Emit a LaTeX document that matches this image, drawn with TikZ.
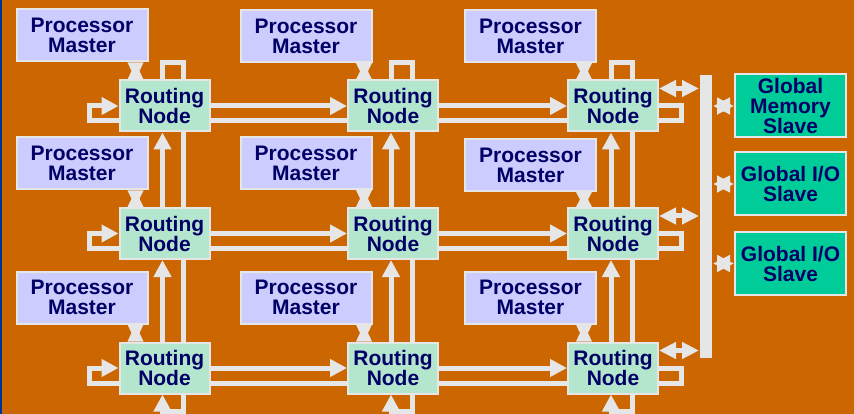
\documentclass[tikz,border=0pt]{standalone}
\usepackage{fontspec}
\setmainfont{Liberation Sans}
\usetikzlibrary{arrows.meta}
\definecolor{bg}{RGB}{204,102,0}
\definecolor{wire}{RGB}{230,230,230}
\definecolor{pmfill}{RGB}{204,204,255}
\definecolor{rnfill}{RGB}{179,230,204}
\definecolor{gsfill}{RGB}{0,204,153}
\definecolor{ink}{RGB}{0,0,102}
\definecolor{rim}{RGB}{0,51,153}

\begin{document}
\begin{tikzpicture}
[x=1pt,y=-1pt,
every node/.style={rectangle,draw=wire,line width=2pt,text=ink,align=center,inner sep=1pt,font=\fontsize{21}{20}\selectfont\bfseries},
pm/.style={fill=pmfill,minimum width=131pt,minimum height=52pt},
rn/.style={fill=rnfill,minimum width=90pt,minimum height=51pt},
gs/.style={fill=gsfill,minimum width=111pt,minimum height=63pt},
link/.style={draw=wire,line width=5pt},
arr/.style={link,-{Triangle[length=17pt,width=17pt]}},
dbl/.style={link,{Triangle[length=17pt,width=16pt]}-{Triangle[length=17pt,width=16pt]}}]
\useasboundingbox (0,0) rectangle (854,414);
\fill[bg] (0,0) rectangle (854,414);
\fill[rim] (0,0) rectangle (2,414);
\node[pm] (p11) at (82,35.5) {Processor\\Master};
\node[pm] (p12) at (306,36) {Processor\\Master};
\node[pm] (p13) at (530.5,36) {Processor\\Master};
\node[pm] (p21) at (82,163.5) {Processor\\Master};
\node[pm] (p22) at (306,163) {Processor\\Master};
\node[pm] (p23) at (530.5,165) {Processor\\Master};
\node[pm] (p31) at (82,297.5) {Processor\\Master};
\node[pm] (p32) at (306,297.5) {Processor\\Master};
\node[pm] (p33) at (530.5,297.5) {Processor\\Master};
\node[rn] (r11) at (164.5,106) {Routing\\Node};
\node[rn] (r12) at (393,106) {Routing\\Node};
\node[rn] (r13) at (613,106) {Routing\\Node};
\node[rn] (r21) at (164.5,233.5) {Routing\\Node};
\node[rn] (r22) at (393,233.5) {Routing\\Node};
\node[rn] (r23) at (613,233.5) {Routing\\Node};
\node[rn] (r31) at (164.5,368) {Routing\\Node};
\node[rn] (r32) at (393,368) {Routing\\Node};
\node[rn] (r33) at (613,368) {Routing\\Node};
\node[gs] (g1) at (790.5,106) {Global\\Memory\\Slave};
\node[gs] (g2) at (790.5,184) {Global I/O\\Slave};
\node[gs] (g3) at (790.5,263.5) {Global I/O\\Slave};
\node[fill=wire,draw=none,minimum width=12pt,minimum height=283pt,inner sep=0pt] (bus) at (706,216.5) {};
\foreach \r in {1,2,3} {
  \foreach \c in {1,2,3} {
    \coordinate (t\r\c) at ([xshift=17pt]r\r\c.north west);
    \coordinate (u\r\c) at (t\r\c |- p\r\c.south);
    \fill[wire] ([xshift=-8pt]t\r\c) -- ([xshift=8pt]t\r\c) -- (u\r\c) -- cycle;
    \fill[wire] ([xshift=-8pt]u\r\c) -- ([xshift=8pt]u\r\c) -- (t\r\c) -- cycle;
  }
  \draw[arr] ([yshift=-15pt]r\r1.west) -- ++(-29,0) |- (r\r1.west);
  \foreach \from/\to in {r\r1/r\r2,r\r2/r\r3} {
    \draw[arr] (\from) -- (\to);
    \draw[link] ([yshift=-15pt]\from.east) -- ([yshift=-15pt]\to.west);
  }
  \draw[link] (r\r3.east) -- ++(22,0) |- ([yshift=-15pt]r\r3.east);
  \coordinate (b\r) at ([yshift=-9pt]r\r3.north east);
  \draw[dbl] (b\r) -- (b\r -| bus.west);
  \draw[dbl] (g\r.west -| bus.east) -- (g\r.west);
}
\foreach \c in {1,2,3} {
  \foreach \from/\to in {r2\c/r1\c,r3\c/r2\c} {
    \draw[arr] ([xshift=-2pt]\from.north) -- ([xshift=-2pt]\to.south);
    \draw[link] ([xshift=19pt]\from.north) -- ([xshift=19pt]\to.south);
  }
  \draw[link] ([xshift=-2pt]r1\c.north) -- ++(0,-17) -| ([xshift=19pt]r1\c.north);
  \draw[arr] ([xshift=19pt]r3\c.south) -- ++(0,17) -| ([xshift=-2pt]r3\c.south);
}
\end{tikzpicture}
\end{document}
